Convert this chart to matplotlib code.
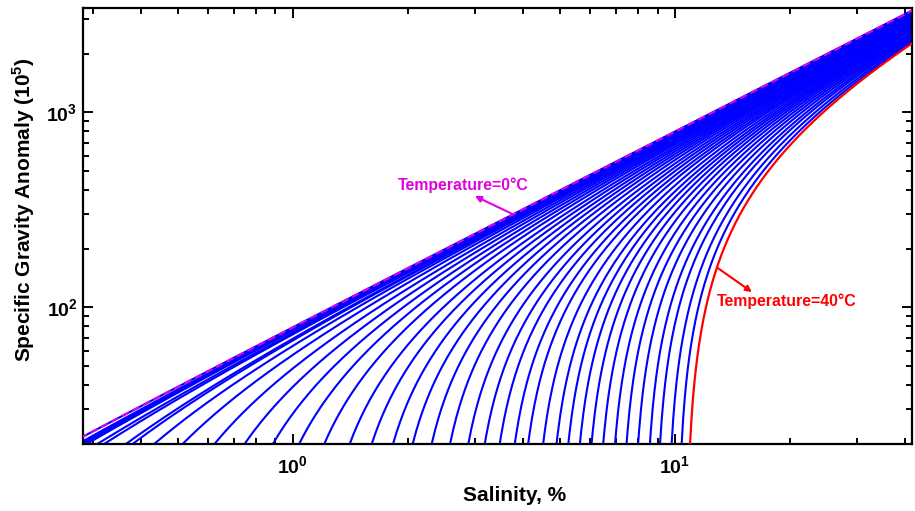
import numpy as np
import matplotlib
matplotlib.use("Agg")
import matplotlib.pyplot as plt
from matplotlib.ticker import FuncFormatter, LogLocator, NullFormatter

plt.rcParams['font.family'] = ['Liberation Sans', 'DejaVu Sans']
plt.rcParams['font.weight'] = 'bold'
plt.rcParams['mathtext.fontset'] = 'custom'
plt.rcParams['mathtext.rm'] = 'Liberation Sans:bold'
plt.rcParams['mathtext.bf'] = 'Liberation Sans:bold'

# isotherms, 0..40 degC
temps = list(range(41))
# salinity (%) where each isotherm crosses anomaly = 20
sal_at_floor = [0.261, 0.275, 0.280, 0.285, 0.290, 0.309, 0.322, 0.367, 0.382, 0.435,
                0.516, 0.625, 0.749, 0.888, 1.04, 1.21, 1.41, 1.61, 1.83, 2.06,
                2.31, 2.58, 2.88, 3.18, 3.48, 3.81, 4.13, 4.52, 4.90, 5.26,
                5.64, 6.05, 6.49, 6.97, 7.47, 8.01, 8.60, 9.14, 9.80, 10.41, 10.95]
# anomaly at 40 % salinity for each isotherm
anom_at_40 = [3191, 3174, 3162, 3146, 3133, 3116, 3103, 3088, 3075, 3059,
              3041, 3020, 3003, 2981, 2961, 2941, 2914, 2892, 2867, 2843,
              2820, 2793, 2763, 2737, 2708, 2680, 2653, 2621, 2589, 2560,
              2528, 2497, 2463, 2426, 2388, 2349, 2306, 2267, 2219, 2174, 2135]

floor_val = 20.0
s_max = 41.7

fig = plt.figure(figsize=(9.15, 5.11), dpi=100)
ax = fig.add_axes([83/915, 1 - 443.6/511, (912 - 83)/915, (443.6 - 8)/511])

def isotherm(i):
    s0 = sal_at_floor[i]
    s = np.geomspace(s0, s_max, 300)
    y = floor_val + (anom_at_40[i] - floor_val) * (s - s0) / (40.0 - s0)
    return s, y

for i, t in enumerate(temps):
    s, y = isotherm(i)
    if t == 40:
        ax.plot(s, y, color='#ff0000', lw=1.6, zorder=3)
    else:
        ax.plot(s, y, color='#0000ff', lw=1.5, zorder=2)

# 0 degC isotherm dashed on top
s, y = isotherm(0)
ax.plot(s, y, color='#e000e0', lw=1.6, dashes=(3.5, 1.8), zorder=4)

ax.set_xscale('log')
ax.set_yscale('log')
ax.set_xlim(0.2825, s_max)
ax.set_ylim(20, 3430)

fmt = FuncFormatter(lambda v, p: r'$\mathbf{10^{%d}}$' % round(np.log10(v)))
ax.xaxis.set_major_formatter(fmt)
ax.yaxis.set_major_formatter(fmt)
ax.xaxis.set_minor_formatter(NullFormatter())
ax.yaxis.set_minor_formatter(NullFormatter())
ax.xaxis.set_minor_locator(LogLocator(base=10, subs=np.arange(2, 10)))
ax.yaxis.set_minor_locator(LogLocator(base=10, subs=np.arange(2, 10)))

ax.tick_params(which='both', direction='in', top=True, right=True, width=1.4, colors='black')
ax.tick_params(which='major', length=7, labelsize=14)
ax.tick_params(axis='x', which='major', pad=8)
ax.tick_params(axis='y', which='major', pad=4)
ax.tick_params(which='minor', length=4)
for sp in ax.spines.values():
    sp.set_linewidth(1.6)

ax.set_xlabel('Salinity, %', fontsize=15, fontweight='bold')
ax.xaxis.set_label_coords(0.5205, -0.098)
ax.set_ylabel(r'Specific Gravity Anomaly (10$^{5}$)', fontsize=15, fontweight='bold')
ax.yaxis.set_label_coords(-0.0555, 0.536)

# labels for the two end isotherms
ax.annotate('', xy=(2.995, 372), xytext=(3.77, 300),
            arrowprops=dict(arrowstyle='-|>', color='#e000e0', lw=1.5,
                            mutation_scale=9, shrinkA=0, shrinkB=0), zorder=5)
ax.text(1.883, 424, 'Temperature=0°C', color='#e000e0', fontsize=11.4,
        fontweight='bold', ha='left', va='center')

ax.annotate('', xy=(15.9, 119.8), xytext=(12.88, 160),
            arrowprops=dict(arrowstyle='-|>', color='#ff0000', lw=1.5,
                            mutation_scale=9, shrinkA=0, shrinkB=0), zorder=5)
ax.text(12.88, 107.7, 'Temperature=40°C', color='#ff0000', fontsize=11.4,
        fontweight='bold', ha='left', va='center')

fig.savefig('out.png', dpi=100)
